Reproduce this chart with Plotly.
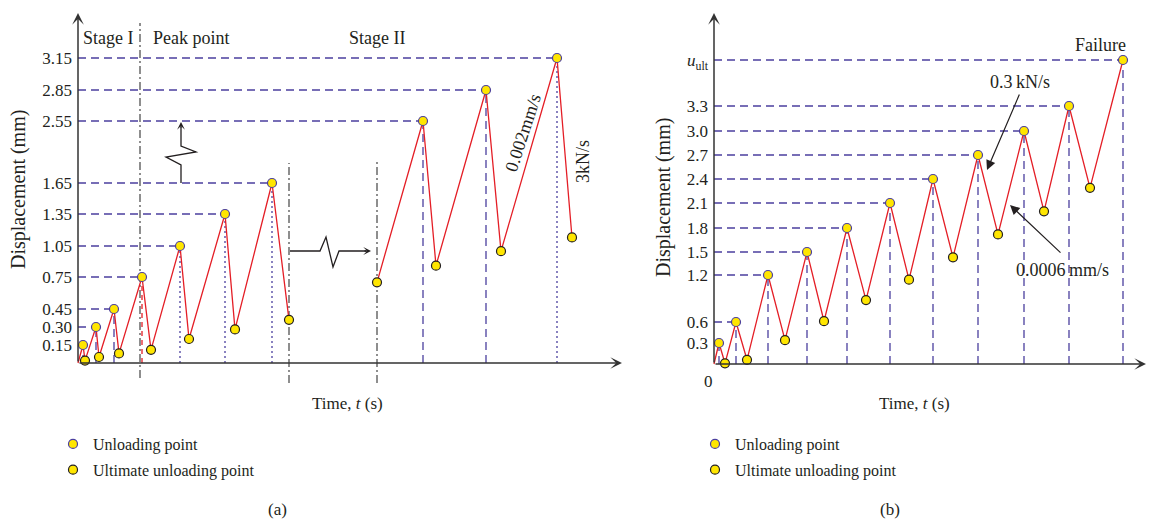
import numpy as np
import plotly.graph_objects as go

W, H = 1149, 520

# ---------------- data ----------------
# (a) cyclic loading: stage I + peak point part
t_a1 = [0, 5, 7, 18, 21, 36, 41, 64, 73, 102, 111, 147, 157, 194, 211]
d_a1 = [0, 0.15, 0.02, 0.30, 0.05, 0.45, 0.08, 0.75, 0.11, 1.05, 0.20, 1.35, 0.28, 1.65, 0.36]
# (a) stage II part
t_a2 = [299, 345, 358, 408, 423, 479, 494]
d_a2 = [0.70, 2.55, 0.86, 2.85, 1.00, 3.15, 1.13]
# (a) stage boundaries (time)
stage_bounds_a = [62, 211, 299]
ticks_a = [0.15, 0.30, 0.45, 0.75, 1.05, 1.35, 1.65, 2.55, 2.85, 3.15]
ticklabels_a = ["0.15", "0.30", "0.45", "0.75", "1.05", "1.35", "1.65", "2.55", "2.85", "3.15"]

# (b) cyclic loading up to failure
U_ULT = 3.9
t_b = [0, 5, 11, 22, 33, 54, 71, 93, 110, 133, 152, 176, 195, 219, 239, 264, 284, 310, 330, 355, 376, 409]
d_b = [0, 0.3, 0.01, 0.6, 0.06, 1.2, 0.34, 1.5, 0.61, 1.8, 0.88, 2.1, 1.14, 2.4, 1.43, 2.7, 1.72, 3.0, 2.0, 3.3, 2.29, U_ULT]
ticks_b = [0.3, 0.6, 1.2, 1.5, 1.8, 2.1, 2.4, 2.7, 3.0, 3.3, U_ULT]
ticklabels_b = ["0.3", "0.6", "1.2", "1.5", "1.8", "2.1", "2.4", "2.7", "3.0", "3.3", "<i>u</i><sub>ult</sub>"]

# ---------------- schematic (non-uniform) displacement scales ----------------
SCALE_A_POS = [0, 18, 36, 54, 86, 117, 149, 180, 242, 273, 305]
SCALE_B_POS = [0, 21, 42, 89, 112, 136, 161, 185, 209, 233, 258, 304]


def scale_a(v):
    return np.interp(v, [0] + ticks_a, SCALE_A_POS)


def scale_b(v):
    return np.interp(v, [0] + ticks_b, SCALE_B_POS)


# ---------------- styles ----------------
FONT = "Liberation Serif"
INK = "#231f20"
RED = "#e41e26"
PURPLE = "#4b3f9e"
YELLOW = "#ffe600"
AXIS_GREY = "#333333"
DASH = "8px,5px"
DOT = "2px,3px"
DASHDOT = "8px,3px,2px,3px"
# drop-line style for each peak of (a)
drop_style_a = ["dash", "dash", "dash", "red", "dot", "dot", "dot", "dash", "dash", "dot"]


def px(x):
    return x / W


def py(y):
    return 1 - y / H


fig = go.Figure()

# ---------------- panel (a) ----------------
ya1 = scale_a(d_a1)
ya2 = scale_a(d_a2)
for tt, yy in ((t_a1, ya1), (t_a2, ya2)):
    fig.add_trace(go.Scatter(x=tt, y=yy, mode="lines", line=dict(color=RED, width=1.3),
                             hoverinfo="skip", showlegend=False, xaxis="x", yaxis="y"))

peaks_t_a = t_a1[1::2] + t_a2[1::2]
peaks_d_a = d_a1[1::2] + d_a2[1::2]
vals_t_a = t_a1[2::2] + t_a2[0::2]
vals_d_a = d_a1[2::2] + d_a2[0::2]

shapes = []
for tp, dp, st in zip(peaks_t_a, peaks_d_a, drop_style_a):
    h = float(scale_a(dp))
    shapes.append(dict(type="line", xref="x", yref="y", x0=0, x1=tp, y0=h, y1=h,
                       line=dict(color=PURPLE, width=1.3, dash=DASH), layer="below"))
    if st == "red":
        ln = dict(color=RED, width=1.3, dash="5px,4px")
    elif st == "dot":
        ln = dict(color=PURPLE, width=1.3, dash=DOT)
    else:
        ln = dict(color=PURPLE, width=1.3, dash=DASH)
    shapes.append(dict(type="line", xref="x", yref="y", x0=tp, x1=tp, y0=0, y1=h,
                       line=ln, layer="below"))

# stage boundaries
bound_extent = [(-15, 340), (-20, 200), (-20, 201)]
for tb, (lo, hi) in zip(stage_bounds_a, bound_extent):
    shapes.append(dict(type="line", xref="x", yref="y", x0=tb, x1=tb, y0=lo, y1=hi,
                       line=dict(color="#444444", width=1.2, dash=DASHDOT), layer="below"))

# axis break symbols
h165, h255 = float(scale_a(1.65)), float(scale_a(2.55))
zx = 103
shapes.append(dict(type="path", xref="x", yref="y",
                   path=f"M{zx},{h165} L{zx},{h165 + 18} L{zx - 15},{h165 + 26} L{zx + 15},{h165 + 31} L{zx},{h165 + 37} L{zx},{h255 - 6}",
                   line=dict(color=INK, width=1.3)))
hz = 112
shapes.append(dict(type="path", xref="x", yref="y",
                   path=f"M212,{hz} L242,{hz} L248,{hz + 14} L255,{hz - 16} L261,{hz} L288,{hz}",
                   line=dict(color=INK, width=1.3)))

fig.add_trace(go.Scatter(x=peaks_t_a, y=scale_a(peaks_d_a), mode="markers", name="Unloading point",
                         marker=dict(size=9, color=YELLOW, line=dict(color=PURPLE, width=1.2)),
                         hoverinfo="skip", xaxis="x", yaxis="y", legend="legend", legendgroup="u"))
fig.add_trace(go.Scatter(x=vals_t_a, y=scale_a(vals_d_a), mode="markers", name="Ultimate unloading point",
                         marker=dict(size=9, color=YELLOW, line=dict(color=INK, width=1.2)),
                         hoverinfo="skip", xaxis="x", yaxis="y", legend="legend", legendgroup="v"))

# ---------------- panel (b) ----------------
yb = scale_b(d_b)
fig.add_trace(go.Scatter(x=t_b, y=yb, mode="lines", line=dict(color=RED, width=1.3),
                         hoverinfo="skip", showlegend=False, xaxis="x2", yaxis="y2"))
peaks_t_b, peaks_d_b = t_b[1::2], d_b[1::2]
vals_t_b, vals_d_b = t_b[2::2], d_b[2::2]
for tp, dp in zip(peaks_t_b, peaks_d_b):
    h = float(scale_b(dp))
    shapes.append(dict(type="line", xref="x2", yref="y2", x0=0, x1=tp, y0=h, y1=h,
                       line=dict(color=PURPLE, width=1.3, dash=DASH), layer="below"))
    shapes.append(dict(type="line", xref="x2", yref="y2", x0=tp, x1=tp, y0=0, y1=h,
                       line=dict(color=PURPLE, width=1.3, dash=DASH), layer="below"))

fig.add_trace(go.Scatter(x=peaks_t_b, y=scale_b(peaks_d_b), mode="markers", name="Unloading point",
                         marker=dict(size=9, color=YELLOW, line=dict(color=PURPLE, width=1.2)),
                         hoverinfo="skip", xaxis="x2", yaxis="y2", legend="legend2", legendgroup="u2"))
fig.add_trace(go.Scatter(x=vals_t_b, y=scale_b(vals_d_b), mode="markers", name="Ultimate unloading point",
                         marker=dict(size=9, color=YELLOW, line=dict(color=INK, width=1.2)),
                         hoverinfo="skip", xaxis="x2", yaxis="y2", legend="legend2", legendgroup="v2"))

# ---------------- axes with arrows ----------------
ann = []


def arrow(xref, yref, x0, y0, x1, y1):
    ann.append(dict(xref=xref, yref=yref, axref=xref, ayref=yref, x=x1, y=y1, ax=x0, ay=y0,
                    text="", showarrow=True, arrowhead=3, arrowsize=1.3, arrowwidth=1.5,
                    arrowcolor=AXIS_GREY))


arrow("x", "y", 0, 0, 0, 350)
arrow("x", "y", 0, 0, 544, 0)
arrow("x2", "y2", 0, 0, 0, 351)
arrow("x2", "y2", 0, 0, 432, 0)
# break arrows
ann.append(dict(xref="x", yref="y", axref="x", ayref="y", x=zx, y=h255 - 1, ax=zx, ay=h255 - 8,
                text="", showarrow=True, arrowhead=3, arrowsize=1, arrowwidth=1.3, arrowcolor=INK))
ann.append(dict(xref="x", yref="y", axref="x", ayref="y", x=293, y=hz, ax=285, ay=hz,
                text="", showarrow=True, arrowhead=3, arrowsize=1, arrowwidth=1.3, arrowcolor=INK))


def label(x, y, text, size=18, angle=0, xanchor="center"):
    ann.append(dict(xref="paper", yref="paper", x=px(x), y=py(y), text=text, showarrow=False,
                    textangle=angle, xanchor=xanchor, yanchor="middle",
                    font=dict(family=FONT, size=size, color=INK)))


label(108, 38, "Stage I")
label(191, 38, "Peak point")
label(377, 38, "Stage II")
label(523, 133, "0.002mm/s", angle=-72)
label(583, 162, "3kN/s", angle=-90)
label(18, 190, "Displacement (mm)", size=20, angle=-90)
label(347, 403, "Time, <i>t</i> (s)", size=17)
label(277, 509, "(a)", size=17)

label(1100, 45, "Failure")
label(1020, 82, "0.3\u2009kN/s")
label(1062, 270, "0.0006\u2009mm/s")
label(708, 381, "0", size=17)
label(663, 198, "Displacement (mm)", size=20, angle=-90)
label(914, 403, "Time, <i>t</i> (s)", size=17)
label(890, 509, "(b)", size=17)

# pointer arrows in (b)
for (tx, ty), (hx, hy) in (((1020, 93), (987, 170)), ((1062, 254), (1010, 205))):
    ann.append(dict(xref="paper", yref="paper", x=px(hx), y=py(hy), ax=tx - hx, ay=ty - hy,
                    axref="pixel", ayref="pixel", text="", showarrow=True, arrowhead=2,
                    arrowsize=1.6, arrowwidth=1.2, arrowcolor=INK))

# ---------------- layout ----------------
dom_y = [py(395), 1.0]
tickfont = dict(family=FONT, size=17, color=INK)
fig.update_layout(
    width=W, height=H, autosize=False,
    margin=dict(l=0, r=0, t=0, b=0),
    paper_bgcolor="white", plot_bgcolor="white",
    showlegend=True,
    xaxis=dict(domain=[px(60), px(640)], range=[-18, 562], visible=False, anchor="y"),
    yaxis=dict(domain=dom_y, range=[-32, 363], anchor="free", position=px(78),
               tickvals=scale_a(ticks_a), ticktext=ticklabels_a, tickfont=tickfont,
               showline=False, showgrid=False, zeroline=False, ticks="", ticklabelstandoff=6),
    xaxis2=dict(domain=[px(650), 1.0], range=[-64, 435], visible=False, anchor="y2"),
    yaxis2=dict(domain=dom_y, range=[-31, 364], anchor="free", position=px(714),
                tickvals=scale_b(ticks_b), ticktext=ticklabels_b, tickfont=tickfont,
                showline=False, showgrid=False, zeroline=False, ticks="", ticklabelstandoff=6),
    legend=dict(x=px(53), y=py(427), xanchor="left", yanchor="top", bgcolor="rgba(0,0,0,0)",
                font=dict(family=FONT, size=16, color=INK), tracegroupgap=2),
    legend2=dict(x=px(695), y=py(427), xanchor="left", yanchor="top", bgcolor="rgba(0,0,0,0)",
                 font=dict(family=FONT, size=16, color=INK), tracegroupgap=2),
    shapes=shapes,
    annotations=ann,
)

fig.write_html("out.html")
